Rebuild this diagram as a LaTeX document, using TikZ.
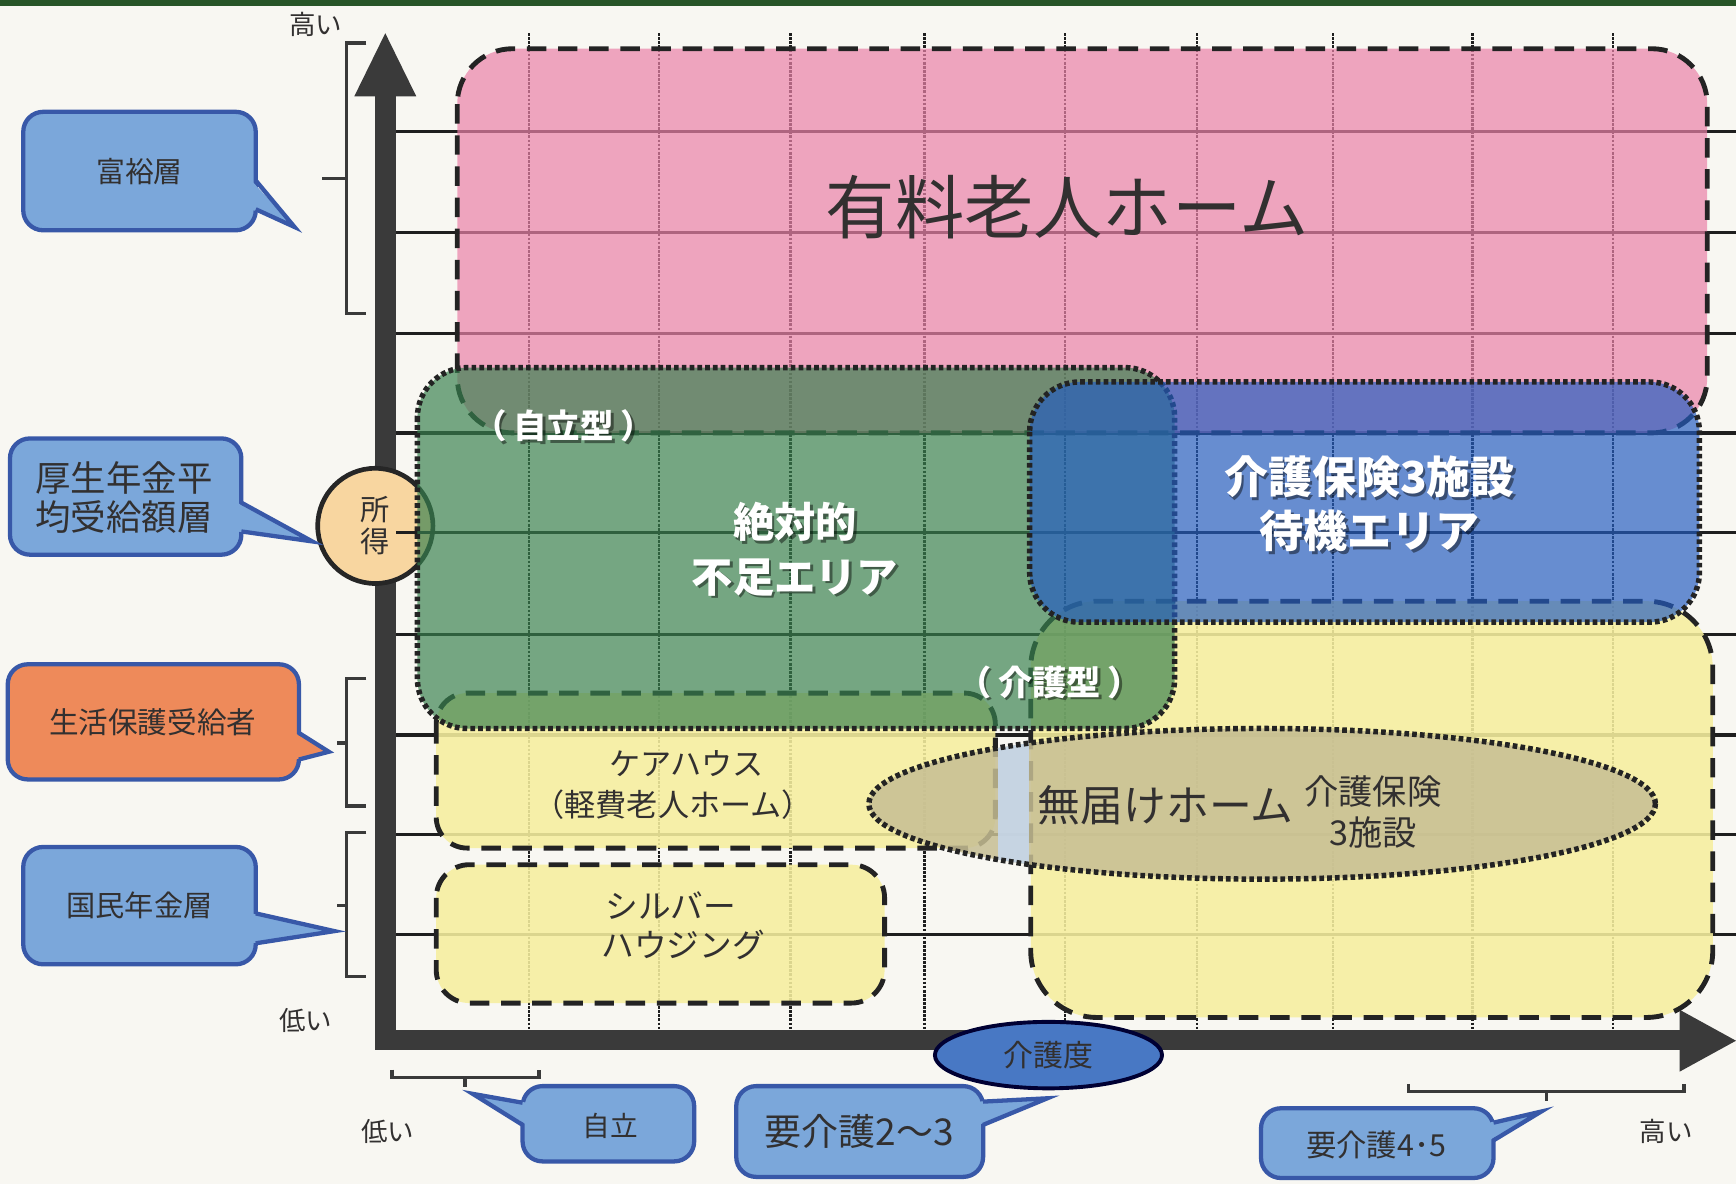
\documentclass[tikz,border=0pt]{standalone}
\usepackage{fontspec}
\setmainfont{Noto Sans CJK JP}
\usetikzlibrary{calc,shapes.geometric}
\newcommand{\fsz}[1]{\fontsize{#1pt}{#1pt}\selectfont}
\newcommand{\fszl}[2]{\fontsize{#1pt}{#2pt}\selectfont}
\definecolor{bgc}{RGB}{248,247,242}
\definecolor{topg}{RGB}{40,85,40}
\definecolor{axisc}{RGB}{58,58,58}
\definecolor{pinkc}{RGB}{235,130,168}
\definecolor{yelc}{RGB}{246,239,158}
\definecolor{greenc}{RGB}{55,128,78}
\definecolor{bluec}{RGB}{35,92,192}
\definecolor{ellc}{RGB}{198,190,147}
\definecolor{gapc}{RGB}{198,214,234}
\definecolor{callfill}{RGB}{123,167,218}
\definecolor{callline}{RGB}{56,88,168}
\definecolor{orangec}{RGB}{238,138,90}
\definecolor{peach}{RGB}{248,214,160}
\definecolor{kaigoc}{RGB}{72,120,196}
\definecolor{darkline}{RGB}{35,35,35}
\definecolor{txtc}{RGB}{50,48,48}
\begin{document}
\begin{tikzpicture}[x=0.01cm,y=-0.01cm,
  gridh/.style={draw=black!88,line width=0.85pt},
  gridv/.style={draw=black!88,line width=0.55pt,dash pattern=on 0.7pt off 0.35pt},
  dashbox/.style={draw=darkline,line width=1.25pt,dash pattern=on 5pt off 3pt},
  dotbox/.style={draw=darkline,line width=1.4pt,dash pattern=on 1.2pt off 0.8pt},
  callbox/.style={draw=callline,line width=1.1pt,fill=callfill,rounded corners=0.18cm},
  callptr/.style={draw=callline,line width=1.1pt,line join=miter},
  brk/.style={draw=axisc,line width=0.9pt},
  lbl/.style={text=txtc,inner sep=0pt,align=center},
  wlbl/.style={text=white,inner sep=0pt,align=center,font=\bfseries},
  shd/.style={text=black,opacity=0.45,inner sep=0pt,align=center,font=\bfseries}
]
\useasboundingbox (0,0) rectangle (1568,1069);
\fill[bgc] (0,0) rectangle (1568,1069);
\fill[topg] (0,0) rectangle (1568,5);

% axes
\fill[axisc] (339,86) rectangle (358,948);
\fill[axisc] (320,87) -- (348,30) -- (376,87) -- cycle;
\fill[axisc] (339,930) rectangle (1519,948);
\fill[axisc] (1517,912) -- (1568,940) -- (1517,968) -- cycle;

% income circle
\node[circle,draw=black!85,line width=1.2pt,fill=peach,minimum size=1.04cm,inner sep=0pt,
      text=txtc,align=center,font=\fszl{7.5}{8.2}] (shotoku) at (339,475) {所\\得};

% grid
\foreach \yy in {119,210,301,391,481,573,664,754,844}
  \draw[gridh] (358,\yy) -- (1568,\yy);
\foreach \xx in {478,595,714,835,962,1081,1204,1330,1457}
  \draw[gridv] (\xx,30) -- (\xx,930);

% pink box
\draw[dashbox,fill=pinkc,fill opacity=0.7,rounded corners=0.5cm] (413,44) rectangle (1542,391);
% yellow boxes
\draw[dashbox,fill=yelc,fill opacity=0.88,rounded corners=0.6cm] (931,543) rectangle (1547,919);
\draw[dashbox,fill=yelc,fill opacity=0.88,rounded corners=0.28cm] (394,626) rectangle (899,766);
\draw[dashbox,fill=yelc,fill opacity=0.88,rounded corners=0.3cm] (394,781) rectangle (799,906);
% green box
\draw[dotbox,fill=greenc,fill opacity=0.68,rounded corners=0.45cm] (377,332) rectangle (1061,658);
% blue box
\draw[dotbox,fill=bluec,fill opacity=0.68,rounded corners=0.45cm] (930,345) rectangle (1535,562);
% ellipse
\fill[ellc,fill opacity=0.85] (1140,726) ellipse [x radius=3.55cm,y radius=0.68cm];
\begin{scope}
  \clip (1140,726) ellipse [x radius=3.55cm,y radius=0.68cm];
  \fill[gapc,fill opacity=0.9] (901,650) rectangle (929,800);
\end{scope}
\draw[dotbox] (1140,726) ellipse [x radius=3.55cm,y radius=0.68cm];

% care-degree ellipse
\node[ellipse,draw=black!80!blue,line width=1pt,fill=kaigoc,minimum width=2.05cm,minimum height=0.6cm,
      inner sep=0pt,text=txtc,font=\fsz{7.7}] (kaigodo) at (947,953) {介護度};

% brackets
\draw[brk] (331,39) -- (313,39) -- (313,283) -- (331,283);
\draw[brk] (313,161) -- (291,161);
\draw[brk] (331,613) -- (313,613) -- (313,728) -- (331,728);
\draw[brk] (313,671) -- (304,671);
\draw[brk] (331,752) -- (313,752) -- (313,882) -- (331,882);
\draw[brk] (313,818) -- (304,818);
\draw[brk] (354,966) -- (354,973) -- (487,973) -- (487,966);
\draw[brk] (420,973) -- (420,982);
\draw[brk] (1272,979) -- (1272,986) -- (1521,986) -- (1521,979);
\draw[brk] (1397,986) -- (1397,994);

% callouts
\draw[callbox] (21,101) rectangle (231,208);
\fill[callfill] (227,163) -- (266,205) -- (227,189) -- cycle;
\draw[callptr] (231,163) -- (266,205) -- (231,189);

\draw[callbox] (9,396) rectangle (218,501);
\fill[callfill] (214,454) -- (282,489) -- (214,480) -- cycle;
\draw[callptr] (218,454) -- (282,489) -- (218,480);

\draw[callbox,fill=orangec] (7,600) rectangle (270,704);
\fill[orangec] (266,662) -- (297,679) -- (266,686) -- cycle;
\draw[callptr] (270,662) -- (297,679) -- (270,686);

\draw[callbox] (21,765) rectangle (231,871);
\fill[callfill] (227,825) -- (302,841) -- (227,852) -- cycle;
\draw[callptr] (231,825) -- (302,841) -- (231,852);

\draw[callbox] (472,981) rectangle (627,1049);
\fill[callfill] (476,996) -- (427,988) -- (476,1016) -- cycle;
\draw[callptr] (472,996) -- (427,988) -- (472,1016);

\draw[callbox] (665,981) rectangle (888,1063);
\fill[callfill] (884,995) -- (946,992) -- (884,1016) -- cycle;
\draw[callptr] (888,995) -- (946,992) -- (888,1016);

\draw[callbox] (1139,1001) rectangle (1349,1064);
\fill[callfill] (1345,1014) -- (1392,1004) -- (1345,1030) -- cycle;
\draw[callptr] (1349,1014) -- (1392,1004) -- (1349,1030);

% callout texts
\node[lbl,font=\fsz{7.4}] (fuyu) at (126,155) {富裕層};
\node[lbl,font=\fszl{9.1}{10}] (kosei) at (112,449) {厚生年金平\\均受給額層};
\node[lbl,font=\fsz{7.6}] (seikatsu) at (138,652) {生活保護受給者};
\node[lbl,font=\fsz{7.5}] (kokumin) at (126,818) {国民年金層};
\node[lbl,font=\fsz{7.1}] (jiritsu) at (551,1017) {自立};
\node[lbl,font=\fsz{9.5}] (yokaigo23) at (776,1022) {要介護2～3};
\node[lbl,font=\fsz{7.8}] (yokaigo45) at (1243,1034) {要介護4･5};

% axis labels
\node[lbl,font=\fsz{6.8}] (takaiY) at (285,22) {高い};
\node[lbl,font=\fsz{6.8}] (hikuiY) at (276,922) {低い};
\node[lbl,font=\fsz{6.8}] (hikuiX) at (350,1022) {低い};
\node[lbl,font=\fsz{6.8}] (takaiX) at (1505,1022) {高い};

% region labels
\node[lbl,font=\fsz{17.8}] (yuryo) at (964,187) {有料老人ホーム};
\node[lbl,font=\fsz{8}] (carehouse) at (620,690) {ケアハウス};
\node[lbl,font=\fsz{8}] (keihi) at (608,727) {（軽費老人ホーム）};
\node[lbl,font=\fsz{8.4}] (silver) at (606,818) {シルバー};
\node[lbl,font=\fsz{8.4}] (housing) at (617,853) {ハウジング};
\node[lbl,font=\fsz{11}] (mutodoke) at (1053,727) {無届けホーム};
\node[lbl,font=\fszl{8.8}{10.5}] (kaigo3) at (1240,733) {介護保険\\3施設};

% white labels with shadow
\node[shd,font=\bfseries\fsz{8.6}] (jiritsugataS) at (511.5,387.5) {（\hspace{0.2em}自立型\hspace{0.2em}）};
\node[wlbl,font=\bfseries\fsz{8.6}] (jiritsugata) at (509,385) {（\hspace{0.2em}自立型\hspace{0.2em}）};
\node[shd,font=\bfseries\fszl{10.6}{14}] (zettaiS) at (720.5,498.5) {絶対的\\不足エリア};
\node[wlbl,font=\bfseries\fszl{10.6}{14}] (zettai) at (718,496) {絶対的\\不足エリア};
\node[shd,font=\bfseries\fsz{8.8}] (kaigogataS) at (950.5,618.5) {（\hspace{0.2em}介護型\hspace{0.2em}）};
\node[wlbl,font=\bfseries\fsz{8.8}] (kaigogata) at (948,616) {（\hspace{0.2em}介護型\hspace{0.2em}）};
\node[shd,font=\bfseries\fszl{11.3}{14}] (taikiS) at (1239.5,457.5) {介護保険3施設\\待機エリア};
\node[wlbl,font=\bfseries\fszl{11.3}{14}] (taiki) at (1237,455) {介護保険3施設\\待機エリア};
\end{tikzpicture}
\end{document}
